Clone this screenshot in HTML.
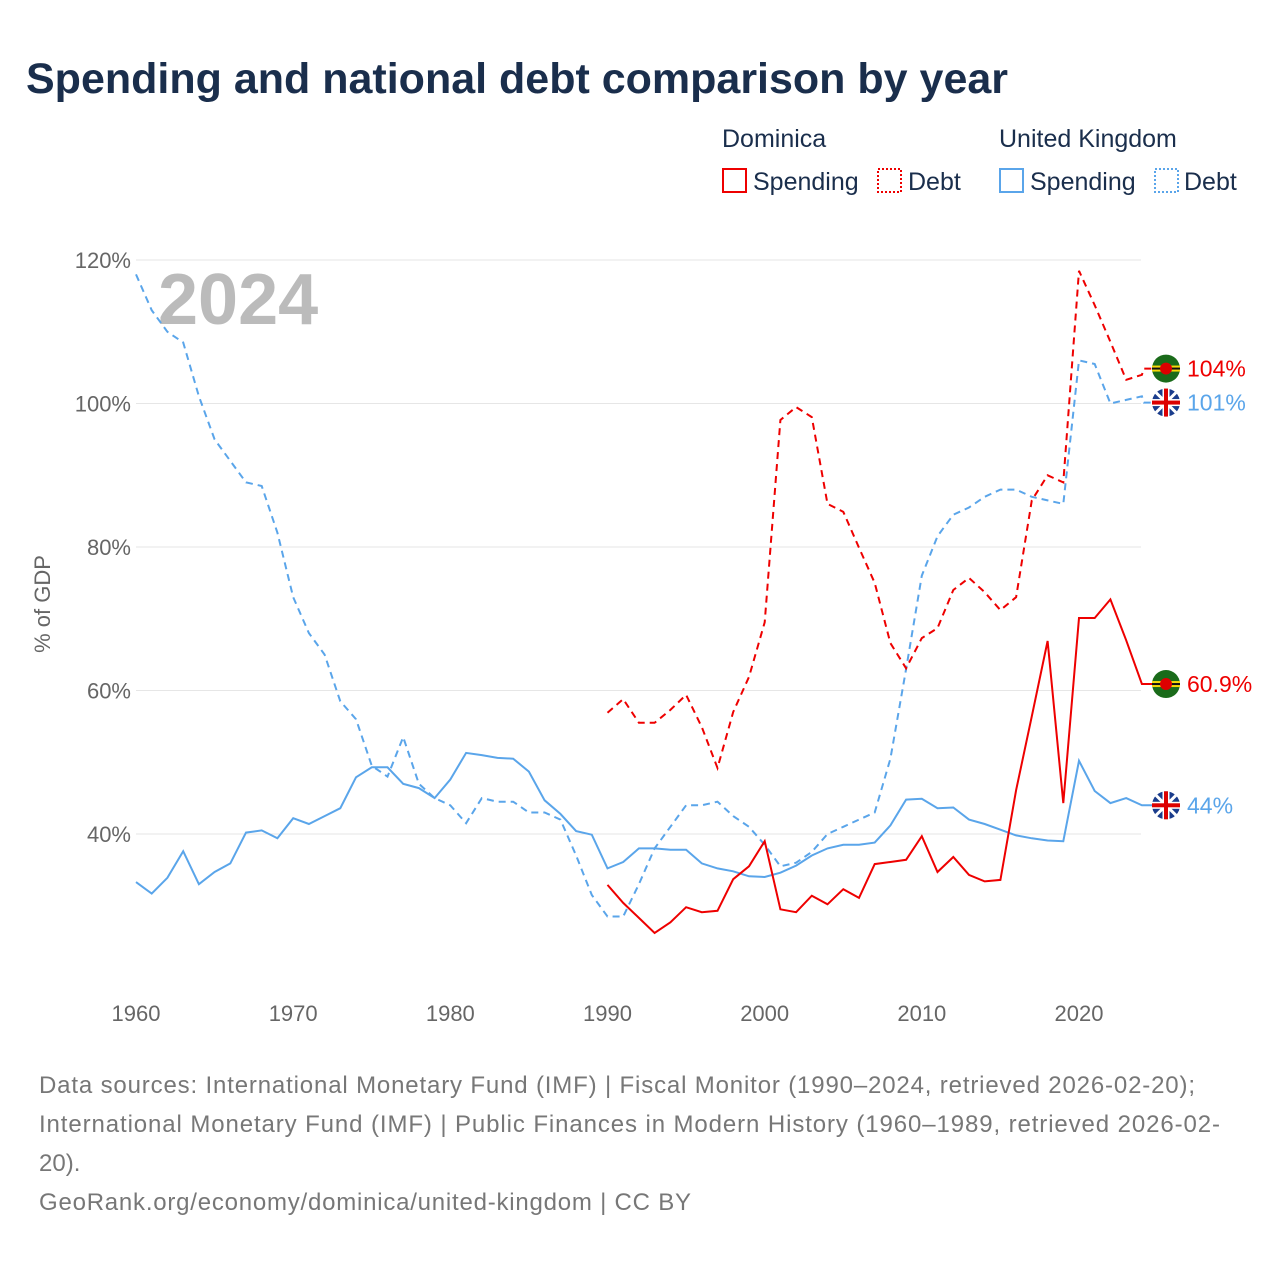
<!DOCTYPE html>
<html><head><meta charset="utf-8"><style>
body{margin:0;background:#fff;font-family:"Liberation Sans",sans-serif;}
svg text{font-family:"Liberation Sans",sans-serif;}
</style></head><body>
<svg id="chart" width="1280" height="1280" xmlns="http://www.w3.org/2000/svg">
<text x="26" y="93" font-size="43" font-weight="bold" fill="#1a2e4c" textLength="982">Spending and national debt comparison by year</text>
<g font-size="25" fill="#1a2e4c">
<text x="722" y="147">Dominica</text>
<text x="999" y="147">United Kingdom</text>
<rect x="723" y="169" width="23" height="23" fill="none" stroke="#e00" stroke-width="2"/>
<text x="753" y="190">Spending</text>
<rect x="878" y="169" width="23" height="23" fill="none" stroke="#e00" stroke-width="2" stroke-dasharray="2,2"/>
<text x="908" y="190">Debt</text>
<rect x="1000" y="169" width="23" height="23" fill="none" stroke="#5aa5ea" stroke-width="2"/>
<text x="1030" y="190">Spending</text>
<rect x="1155" y="169" width="23" height="23" fill="none" stroke="#5aa5ea" stroke-width="2" stroke-dasharray="2,2"/>
<text x="1184" y="190">Debt</text>
</g>
<text x="158" y="324" font-size="72" font-weight="bold" fill="#bbb">2024</text>
<text transform="translate(50,604) rotate(-90)" text-anchor="middle" font-size="22" fill="#666">% of GDP</text>
<g id="grid"></g><g id="series"></g><g id="markers"></g>
<g font-size="24" fill="#777">
<text x="39" y="1093" textLength="1156">Data sources: International Monetary Fund (IMF) | Fiscal Monitor (1990–2024, retrieved 2026-02-20);</text>
<text x="39" y="1132" textLength="1181">International Monetary Fund (IMF) | Public Finances in Modern History (1960–1989, retrieved 2026-02-</text>
<text x="39" y="1171">20).</text>
<text x="39" y="1210" textLength="652">GeoRank.org/economy/dominica/united-kingdom | CC BY</text>
</g>
</svg>
<script>
const yTicks=[40,60,80,100,120];
const xTicks=[1960,1970,1980,1990,2000,2010,2020];
const ukDebt=[118,113,110,108.5,101,95,92,89,88.5,82,73,68,65,58.5,56,49.5,48,53.5,47,45,44,41.5,45,44.5,44.5,43,43,42,37,31.5,28.5,28.5,33,38,41,44,44,44.5,42.5,41,38.5,35.5,36,37.5,40,41,42,43,50.5,63,76,81.5,84.5,85.5,87,88,88,87,86.5,86,106,105.5,100,100.5,101];
const ukSpend=[33.3,31.7,33.9,37.6,33,34.7,35.9,40.2,40.5,39.4,42.2,41.4,42.5,43.6,47.9,49.3,49.3,47,46.4,45,47.6,51.3,51,50.6,50.5,48.7,44.7,42.8,40.4,39.9,35.2,36.1,38,38,37.8,37.8,35.9,35.2,34.8,34.1,34,34.6,35.6,37,38,38.5,38.5,38.8,41.2,44.8,44.9,43.6,43.7,42,41.4,40.6,39.8,39.4,39.1,39,50.2,46,44.3,45,44];
const dmDebt=[56.9,58.8,55.5,55.5,57.3,59.4,54.9,49.2,57,61.9,69.5,97.7,99.5,98.1,86,84.9,79.9,75,66.6,63.1,67.3,68.7,74,75.7,73.7,71.2,73,86.5,90,89,118.5,113.7,108.6,103.3,104];
const dmSpend=[32.9,30.4,28.3,26.2,27.7,29.8,29.1,29.3,33.7,35.5,39,29.5,29.1,31.4,30.2,32.3,31.1,35.8,36.1,36.4,39.7,34.7,36.8,34.3,33.4,33.6,46.1,56.4,66.9,44.3,70.1,70.1,72.7,67,60.9];
const endLabels=["104%","101%","60.9%","44%"];
const NS="http://www.w3.org/2000/svg";
const X=yr=>136+(yr-1960)*(943/60);
const Y=v=>834-(v-40)*7.175;
function mk(t,a,p){const e=document.createElementNS(NS,t);for(const k in a)e.setAttribute(k,a[k]);p.appendChild(e);return e;}
const grid=document.getElementById('grid');
yTicks.forEach(v=>{
 const l=mk('line',{x1:136,x2:1141,y1:Y(v),y2:Y(v),stroke:'#e6e6e6','stroke-width':1},grid);
 
 
 const t=mk('text',{x:131,y:Y(v)+8,'text-anchor':'end','font-size':22,fill:'#666'},grid);t.textContent=v+'%';
 
 
});
xTicks.forEach(yr=>{
 const t=mk('text',{x:X(yr),y:1021,'text-anchor':'middle','font-size':22,fill:'#666'},grid);t.textContent=yr;
 
 
});
// end marker positions with collision avoidance
const ends=[[dmDebt[dmDebt.length-1],'#e00','dm'],[ukDebt[ukDebt.length-1],'#5aa5ea','uk'],[dmSpend[dmSpend.length-1],'#e00','dm'],[ukSpend[ukSpend.length-1],'#5aa5ea','uk']];
const pos=ends.map(e=>Y(e[0]));
const order=pos.map((p,i)=>i).sort((a,b)=>pos[a]-pos[b]);
for(let k=1;k<order.length;k++){
 const a=order[k-1],b=order[k];
 const gap=pos[b]-pos[a];
 if(gap<34){const s=(34-gap)/2;pos[a]-=s;pos[b]+=s;}
}
const S=document.getElementById('series');
function line(data,start,color,dash,name,endY){
 let d=data.map((v,i)=>(i?'L':'M')+X(start+i).toFixed(1)+','+Y(v).toFixed(1)).join(' ');
 d+=' L'+(X(2024)+2)+','+endY.toFixed(1)+' L1166,'+endY.toFixed(1);
 const p=mk('path',{d:d,fill:'none',stroke:color,'stroke-width':2,'stroke-dasharray':dash||'none'},S);
 
 
}
line(ukDebt,1960,'#5aa5ea','7,5','uk-debt-line',pos[1]);
line(ukSpend,1960,'#5aa5ea','','uk-spending-line',pos[3]);
line(dmDebt,1990,'#e00','7,5','dominica-debt-line',pos[0]);
line(dmSpend,1990,'#e00','','dominica-spending-line',pos[2]);
const M=document.getElementById('markers');
ends.forEach((e,i)=>{
 const y=pos[i];
 const g=mk('g',{},M);
 
 
 if(e[2]=='dm'){
  mk('circle',{cx:1166,cy:y,r:14,fill:'#1a6b1a'},g);
  mk('rect',{x:1152,y:y-3,width:28,height:6,fill:'#f5d90a'},g);
  mk('rect',{x:1152,y:y-1,width:28,height:2,fill:'#111'},g);
  mk('circle',{cx:1166,cy:y,r:6,fill:'#d00'},g);
 }else{
  mk('circle',{cx:1166,cy:y,r:14,fill:'#1a3c8c'},g);
  mk('line',{x1:1156,y1:y-10,x2:1176,y2:y+10,stroke:'#fff','stroke-width':3},g);
  mk('line',{x1:1176,y1:y-10,x2:1156,y2:y+10,stroke:'#fff','stroke-width':3},g);
  mk('rect',{x:1152,y:y-3.5,width:28,height:7,fill:'#fff'},g);
  mk('rect',{x:1162.5,y:y-14,width:7,height:28,fill:'#fff'},g);
  mk('rect',{x:1152,y:y-2,width:28,height:4,fill:'#d00'},g);
  mk('rect',{x:1164,y:y-14,width:4,height:28,fill:'#d00'},g);
 }
 const t=mk('text',{x:1187,y:y+8,'font-size':23,fill:e[1]},M);t.textContent=endLabels[i];
 
 
});
</script>
</body></html>
